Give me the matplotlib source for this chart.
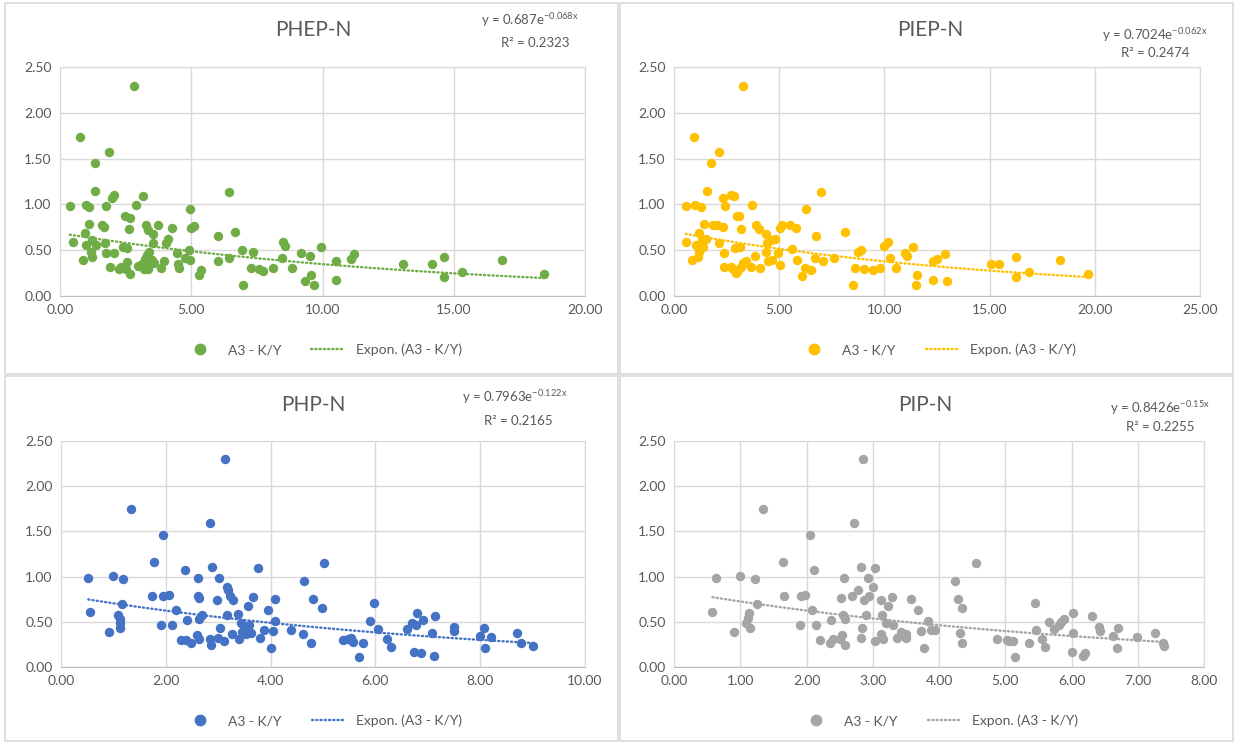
import numpy as np
import matplotlib
matplotlib.use("Agg")
import matplotlib.pyplot as plt
from matplotlib.lines import Line2D

plt.rcParams['font.family'] = ['Lato', 'DejaVu Sans']
plt.rcParams['mathtext.default'] = 'regular'

TXT = '#595959'
GRID = '#D9D9D9'

# PHEP-N
x_phep = [0.37, 0.49, 0.77, 0.88, 0.96, 0.99, 1.12, 1.09, 0.99, 1.21, 1.17, 1.23, 1.36, 1.33, 1.32,
          1.59, 1.69, 1.73, 1.75, 1.85, 1.74, 1.92, 1.98, 2.06, 2.06, 2.23, 2.34, 2.39, 2.47, 2.55,
          2.66, 2.64, 2.55, 2.50, 2.68, 2.82, 2.89, 3.15, 2.98, 3.27, 3.34, 3.55, 3.53, 3.72, 3.11,
          3.24, 3.30, 3.40, 3.36, 3.49, 3.58, 3.43, 3.20, 3.26, 3.83, 3.98, 4.04, 4.10, 4.28, 4.44,
          4.49, 4.53, 4.76, 4.91, 4.96, 4.94, 4.99, 5.09, 5.29, 5.36, 6.00, 6.00, 6.42, 6.42, 6.68,
          6.95, 6.99, 7.26, 7.34, 7.59, 7.74, 8.10, 8.44, 8.48, 8.58, 8.83, 9.19, 9.52, 9.35, 9.58,
          9.68, 9.96, 10.53, 10.50, 11.07, 11.20, 13.05, 14.16, 14.63, 14.61, 15.33, 16.84, 18.44]
y_phep = [0.98, 0.59, 1.74, 0.39, 0.69, 0.99, 0.97, 0.79, 0.56, 0.61, 0.48, 0.43, 0.56, 1.45, 1.15,
          0.77, 0.75, 0.58, 0.98, 1.57, 0.47, 0.32, 1.07, 1.10, 0.47, 0.29, 0.32, 0.53, 0.87, 0.52,
          0.85, 0.73, 0.37, 0.30, 0.24, 2.29, 0.99, 1.09, 0.33, 0.77, 0.72, 0.68, 0.58, 0.78, 0.35,
          0.40, 0.45, 0.48, 0.30, 0.39, 0.36, 0.35, 0.30, 0.38, 0.31, 0.38, 0.58, 0.62, 0.74, 0.47,
          0.35, 0.31, 0.42, 0.50, 0.39, 0.95, 0.74, 0.76, 0.23, 0.28, 0.65, 0.38, 1.14, 0.41, 0.70,
          0.50, 0.12, 0.31, 0.48, 0.29, 0.27, 0.31, 0.42, 0.59, 0.55, 0.31, 0.47, 0.44, 0.16, 0.23,
          0.12, 0.53, 0.38, 0.18, 0.40, 0.46, 0.35, 0.35, 0.43, 0.21, 0.26, 0.39, 0.24]

# PIEP-N
x_piep = [0.55, 0.57, 0.96, 0.87, 0.99, 1.26, 1.18, 1.42, 1.06, 1.31, 1.18, 1.15, 1.50, 1.40, 1.78,
          1.56, 1.86, 2.05, 2.13, 2.13, 2.33, 2.32, 2.44, 2.73, 2.85, 2.37, 2.40, 2.71, 2.82, 2.93,
          2.90, 2.98, 3.11, 3.14, 3.19, 3.03, 3.19, 3.30, 3.26, 3.42, 3.71, 3.66, 3.86, 3.90, 4.02,
          4.10, 4.37, 4.37, 4.42, 4.61, 4.81, 4.45, 4.68, 4.92, 5.05, 5.06, 5.13, 5.49, 5.82, 5.63,
          5.84, 6.07, 6.23, 6.51, 6.28, 6.73, 6.70, 6.99, 7.10, 7.60, 8.15, 8.52, 8.58, 8.75, 8.91,
          9.02, 9.46, 9.81, 10.00, 10.17, 10.28, 10.55, 10.96, 11.06, 11.37, 11.55, 11.52, 12.29,
          12.49, 12.30, 12.97, 12.89, 15.08, 15.44, 16.26, 16.26, 16.85, 18.33, 19.70]
y_piep = [0.98, 0.59, 1.74, 0.39, 0.99, 0.97, 0.69, 0.79, 0.56, 0.61, 0.48, 0.43, 0.62, 0.54, 1.45,
          1.15, 0.77, 0.78, 1.57, 0.58, 0.75, 1.07, 0.98, 1.10, 1.09, 0.47, 0.32, 0.32, 0.29, 0.25,
          0.52, 0.87, 0.87, 0.53, 0.73, 0.28, 0.32, 2.29, 0.36, 0.38, 0.99, 0.32, 0.44, 0.78, 0.73,
          0.31, 0.68, 0.48, 0.58, 0.61, 0.62, 0.38, 0.39, 0.47, 0.34, 0.74, 0.78, 0.77, 0.74, 0.51,
          0.39, 0.22, 0.31, 0.28, 0.95, 0.65, 0.42, 1.14, 0.38, 0.41, 0.70, 0.12, 0.31, 0.48, 0.50,
          0.29, 0.28, 0.31, 0.55, 0.59, 0.42, 0.31, 0.47, 0.44, 0.53, 0.23, 0.12, 0.38,
          0.40, 0.18, 0.16, 0.46, 0.35, 0.35, 0.43, 0.21, 0.26, 0.39, 0.24]

# PHP-N
x_php = [0.52, 0.55, 0.92, 0.99, 1.18, 1.16, 1.08, 1.13, 1.12, 1.12, 1.34, 1.73, 1.78, 1.94, 1.90,
         1.94, 2.06, 2.11, 2.20, 2.29, 2.36, 2.41, 2.38, 2.49, 2.59, 2.62, 2.61, 2.63, 2.64, 2.69,
         2.64, 2.85, 2.86, 2.85, 2.89, 2.98, 3.01, 3.04, 3.00, 3.11, 3.13, 3.16, 3.18, 3.17, 3.22,
         3.29, 3.27, 3.38, 3.40, 3.43, 3.46, 3.52, 3.57, 3.59, 3.54, 3.63, 3.66, 3.75, 3.79, 3.87,
         3.95, 4.04, 4.01, 4.08, 4.09, 4.38, 4.62, 4.64, 4.78, 4.80, 4.99, 5.01, 5.39, 5.47, 5.53,
         5.58, 5.69, 5.77, 5.89, 5.97, 6.05, 6.22, 6.29, 6.61, 6.70, 6.78, 6.79, 6.91, 6.74, 6.87,
         7.08, 7.14, 7.12, 7.50, 7.50, 7.99, 8.08, 8.21, 8.10, 8.71, 8.78, 9.00]
y_php = [0.99, 0.61, 0.39, 1.01, 0.97, 0.70, 0.57, 0.53, 0.49, 0.43, 1.75, 0.78, 1.16, 1.46, 0.46,
         0.79, 0.80, 0.47, 0.63, 0.30, 1.07, 0.52, 0.30, 0.27, 0.35, 0.98, 0.79, 0.76, 0.53, 0.58,
         0.31, 1.59, 0.24, 0.31, 1.11, 0.74, 0.99, 0.43, 0.32, 0.29, 2.30, 0.89, 0.85, 0.57, 0.78,
         0.74, 0.37, 0.59, 0.31, 0.49, 0.39, 0.43, 0.67, 0.47, 0.37, 0.38, 0.77, 1.10, 0.32, 0.41,
         0.63, 0.40, 0.21, 0.51, 0.75, 0.41, 0.37, 0.95, 0.27, 0.75, 0.65, 1.15, 0.30, 0.31, 0.32,
         0.28, 0.11, 0.27, 0.51, 0.71, 0.42, 0.31, 0.22, 0.42, 0.49, 0.47, 0.60, 0.52, 0.17, 0.15,
         0.38, 0.56, 0.12, 0.44, 0.40, 0.34, 0.43, 0.33, 0.21, 0.38, 0.26, 0.23]

# PIP-N
x_pip = [0.58, 0.63, 0.91, 1.00, 1.22, 1.25, 1.13, 1.12, 1.08, 1.15, 1.34, 1.66, 1.65, 2.05, 1.90,
         1.92, 1.97, 2.14, 2.08, 2.21, 2.11, 2.37, 2.36, 2.40, 2.54, 2.56, 2.52, 2.55, 2.58, 2.58,
         2.50, 2.71, 2.69, 2.78, 2.83, 2.84, 2.83, 2.86, 2.87, 2.93, 2.90, 2.94, 3.01, 3.03, 3.04,
         3.13, 3.14, 3.12, 3.15, 3.20, 3.23, 3.29, 3.31, 3.37, 3.43, 3.50, 3.50, 3.57, 3.68, 3.73,
         3.78, 3.84, 3.88, 3.94, 4.24, 4.29, 4.34, 4.32, 4.34, 4.56, 4.87, 5.02, 5.06, 5.11, 5.14,
         5.36, 5.45, 5.46, 5.56, 5.60, 5.66, 5.74, 5.81, 5.84, 5.88, 6.02, 6.02, 6.00, 6.18, 6.21,
         6.31, 6.41, 6.43, 6.63, 6.70, 6.69, 6.99, 7.26, 7.38, 7.40]
y_pip = [0.61, 0.99, 0.39, 1.01, 0.97, 0.70, 0.60, 0.54, 0.49, 0.43, 1.75, 0.78, 1.16, 1.46, 0.46,
         0.79, 0.80, 0.47, 0.63, 0.30, 1.07, 0.52, 0.27, 0.31, 0.35, 0.98, 0.76, 0.58, 0.53, 0.24,
         0.31, 1.59, 0.79, 0.85, 1.11, 0.43, 0.32, 2.30, 0.74, 0.99, 0.58, 0.78, 0.89, 1.10, 0.29,
         0.74, 0.57, 0.37, 0.31, 0.49, 0.67, 0.77, 0.47, 0.32, 0.39, 0.37, 0.32, 0.75, 0.63, 0.40,
         0.21, 0.51, 0.41, 0.41, 0.95, 0.75, 0.65, 0.38, 0.27, 1.15, 0.31, 0.30, 0.29, 0.29, 0.11,
         0.27, 0.71, 0.41, 0.31, 0.22, 0.50, 0.42, 0.47, 0.50, 0.53, 0.60, 0.38, 0.17, 0.12, 0.15,
         0.56, 0.44, 0.40, 0.34, 0.43, 0.21, 0.33, 0.38, 0.26, 0.23]

titles = ['PHEP-N', 'PIEP-N', 'PHP-N', 'PIP-N']
colors = ['#70AD47', '#FFC000', '#4472C4', '#A5A5A5']
fit_a = [0.687, 0.7024, 0.7963, 0.8426]
fit_b = [-0.068, -0.062, -0.122, -0.15]
eq_a = ['0.687', '0.7024', '0.7963', '0.8426']
eq_b = ['-0.068x', '-0.062x', '-0.122x', '-0.15x']
r2 = ['0.2323', '0.2474', '0.2165', '0.2255']
x_max = [20, 25, 10, 8]
x_step = [5, 5, 2, 1]

xs = [x_phep, x_piep, x_php, x_pip]
ys = [y_phep, y_piep, y_php, y_pip]

W, H = 1236, 744
fig = plt.figure(figsize=(W / 100, H / 100), dpi=100)

# plot areas in pixels: left, top, right, bottom
areas = [(60, 67, 585, 296), (674, 67, 1200, 296),
         (61, 441, 585, 667), (674, 441, 1204, 667)]
title_pos = [(313, 30), (930, 30), (313, 405), (925, 405)]
eq_pos = [(530, 20, 535, 43), (1155, 35, 1155, 53),
          (515, 397, 518, 421), (1160, 408, 1160, 427)]

# panel frames
for (x0, y0, x1, y1) in [(5, 3, 618, 374), (620, 3, 1233, 374),
                         (5, 376, 618, 741), (620, 376, 1233, 741)]:
    fig.add_artist(plt.Rectangle((x0 / W, 1 - y1 / H), (x1 - x0) / W, (y1 - y0) / H,
                                 transform=fig.transFigure, fill=False, ec=GRID, lw=1.2))

dots = (0, (0.5, 1.3))

for i in range(4):
    l, t, r, b = areas[i]
    ax = fig.add_axes([l / W, 1 - b / H, (r - l) / W, (b - t) / H])
    x = np.array(xs[i])
    y = np.array(ys[i])
    ax.scatter(x, y, s=46, color=colors[i], zorder=3, linewidths=0)
    xt = np.linspace(x.min(), x.max(), 100)
    ax.plot(xt, fit_a[i] * np.exp(fit_b[i] * xt), color=colors[i], lw=1.7,
            linestyle=dots, dash_capstyle='round', zorder=2)
    ax.set_xlim(0, x_max[i])
    ax.set_ylim(0, 2.5)
    ax.set_xticks(np.arange(0, x_max[i] + 0.01, x_step[i]))
    ax.set_yticks(np.arange(0, 2.51, 0.5))
    ax.xaxis.set_major_formatter(lambda v, p: f'{v:.2f}')
    ax.yaxis.set_major_formatter(lambda v, p: f'{v:.2f}')
    ax.grid(True, color=GRID, lw=1)
    ax.set_axisbelow(True)
    for s in ax.spines.values():
        s.set_color(GRID)
    ax.spines['bottom'].set_color('#BFBFBF')
    ax.tick_params(length=0, labelsize=10, labelcolor=TXT, pad=6)

    legend_handles = [Line2D([], [], marker='o', ls='none', color=colors[i], markersize=7.5),
                      Line2D([], [], color=colors[i], lw=1.7, linestyle=dots,
                             dash_capstyle='round')]
    ax.legend(legend_handles, ['A3 - K/Y', 'Expon. (A3 - K/Y)'], loc='center',
              bbox_to_anchor=(0.5, -(54 / (b - t))), ncol=2, frameon=False,
              fontsize=10, labelcolor=TXT, handlelength=2.4, columnspacing=2.2)

    tx, ty = title_pos[i]
    fig.text(tx / W, 1 - ty / H, titles[i], ha='center', va='center', fontsize=15, color=TXT)
    ex, ey, rx, ry = eq_pos[i]
    fig.text(ex / W, 1 - ey / H, 'y = ' + eq_a[i] + 'e$^{' + eq_b[i] + '}$',
             ha='center', va='center', fontsize=9.5, color=TXT)
    fig.text(rx / W, 1 - ry / H, 'R² = ' + r2[i], ha='center', va='center', fontsize=9.5,
             color=TXT)

fig.savefig('out.png', dpi=100)
